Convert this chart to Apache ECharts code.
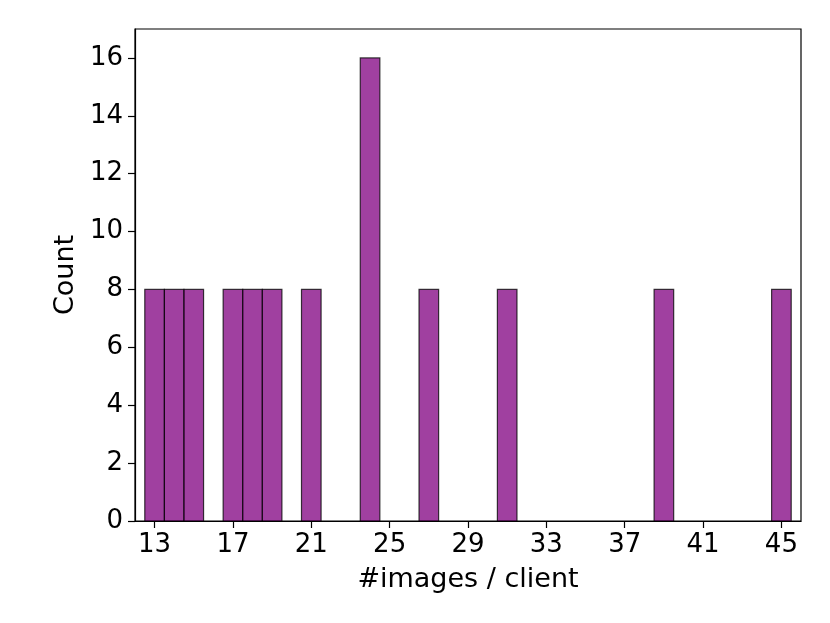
<!DOCTYPE html>
<html>
<head>
<meta charset="utf-8">
<script src="https://cdn.jsdelivr.net/npm/echarts@6/dist/echarts.min.js"></script>
<style>html,body{margin:0;padding:0;background:#fff}#c{width:830px;height:623px}</style>
</head>
<body>
<div id="c"></div>
<script>
var imagesPerClient = [13, 14, 15, 17, 18, 19, 21, 24, 27, 31, 39, 45];
var counts = [8, 8, 8, 8, 8, 8, 8, 16, 8, 8, 8, 8];
var xTicks = [13, 17, 21, 25, 29, 33, 37, 41, 45];
var yTicks = [0, 2, 4, 6, 8, 10, 12, 14, 16];

var data = imagesPerClient.map(function (v, i) { return [v, counts[i]]; });
var font = 'DejaVu Sans';
var chart = echarts.init(document.getElementById('c'), null, { renderer: 'canvas' });
chart.setOption({
  animation: false,
  backgroundColor: '#fff',
  grid: { left: 135, right: 29, top: 29, bottom: 102, show: true, borderColor: '#000', borderWidth: 1.2, backgroundColor: 'transparent' },
  xAxis: {
    type: 'value', min: 12, max: 46,
    name: '#images / client', nameLocation: 'middle', nameGap: 45,
    nameTextStyle: { fontFamily: font, fontSize: 27, color: '#000' },
    axisLine: { show: true, lineStyle: { color: '#000', width: 1.2 } },
    axisTick: { show: true, length: 7, lineStyle: { color: '#000', width: 1.2 }, customValues: xTicks },
    axisLabel: { fontFamily: font, fontSize: 26, color: '#000', margin: 11, customValues: xTicks },
    splitLine: { show: false }
  },
  yAxis: {
    type: 'value', min: 0, max: 17,
    name: 'Count', nameLocation: 'middle', nameGap: 55, nameRotate: 90,
    nameTextStyle: { fontFamily: font, fontSize: 27, color: '#000' },
    axisLine: { show: true, lineStyle: { color: '#000', width: 1.2 } },
    axisTick: { show: true, length: 7, lineStyle: { color: '#000', width: 1.2 }, customValues: yTicks },
    axisLabel: { fontFamily: font, fontSize: 26, color: '#000', margin: 12, customValues: yTicks },
    splitLine: { show: false }
  },
  series: [{
    type: 'custom',
    data: data,
    renderItem: function (params, api) {
      var x = api.value(0), y = api.value(1);
      var p1 = api.coord([x - 0.5, y]);
      var p2 = api.coord([x + 0.5, 0]);
      return {
        type: 'rect',
        shape: { x: p1[0], y: p1[1], width: p2[0] - p1[0], height: p2[1] - p1[1] },
        style: { fill: 'rgba(128,0,128,0.75)', stroke: 'rgba(0,0,0,0.75)', lineWidth: 1.2 }
      };
    }
  }]
});
</script>
</body>
</html>
